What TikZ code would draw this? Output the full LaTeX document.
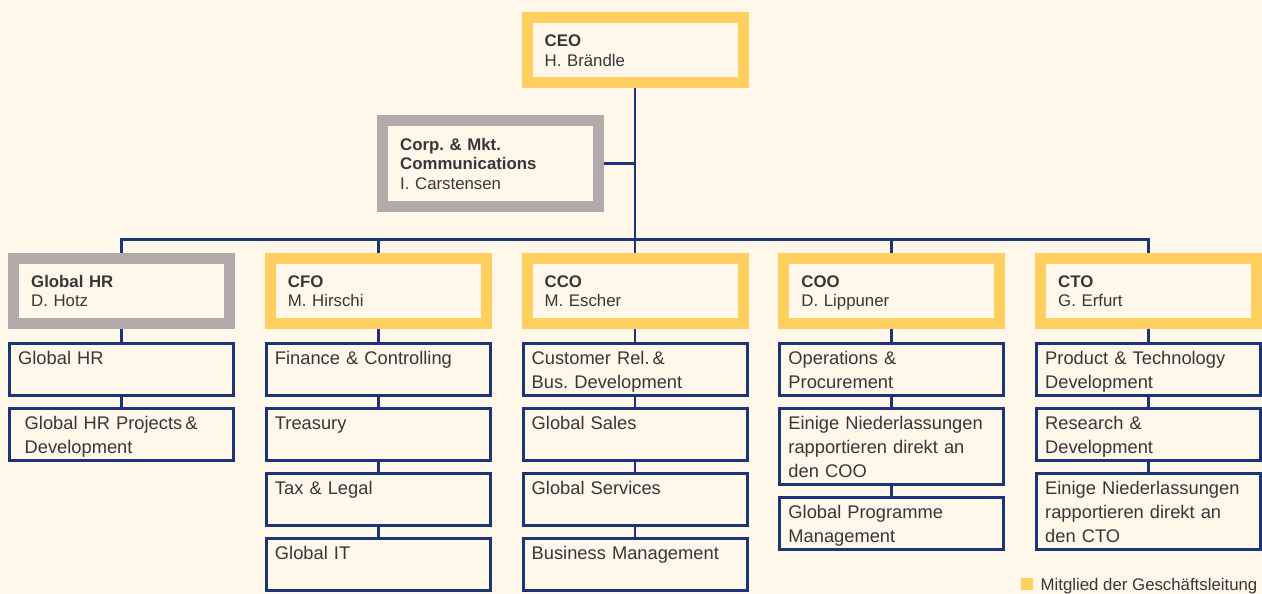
\documentclass[tikz,border=0pt]{standalone}
\usepackage{fontspec}
\setmainfont{Liberation Sans}
\frenchspacing
\usepackage{tikz}
\usetikzlibrary{positioning}
\definecolor{paper}{RGB}{255,247,234}
\definecolor{boardyellow}{RGB}{255,207,96}
\definecolor{staffgrey}{RGB}{178,170,170}
\definecolor{linenavy}{RGB}{28,52,122}
\definecolor{inktext}{RGB}{55,55,55}

\begin{document}
\begin{tikzpicture}[
    x=1pt, y=-1pt,
    head/.style={rectangle, draw=#1, line width=11pt, fill=paper,
                 minimum width=216pt, minimum height=65pt, inner sep=0pt},
    unit/.style={rectangle, draw=linenavy, line width=3pt, fill=paper,
                 minimum width=224pt, minimum height=52pt, inner sep=0pt},
    tall/.style={unit, minimum height=76.5pt},
    headtxt/.style={anchor=base west, inner sep=0pt, text width=190pt, align=left,
                    text=inktext, font=\fontsize{16.8}{19.5}\selectfont},
    unittxt/.style={anchor=base west, inner sep=0pt, text width=210pt, align=left,
                    text=inktext, font=\fontsize{18.3}{24.3}\selectfont},
    link/.style={draw=linenavy, line width=2.8pt}
]
    \fill[paper] (0,0) rectangle (1262,594);
    \useasboundingbox (0,0) rectangle (1262,594);

    % CEO and staff
    \node[head=boardyellow] (ceo) at (635,50) {};
    \node[headtxt] (ceotxt) at ([shift={(23,34.7)}]ceo.north west) {\textbf{CEO}\\H. Brändle};

    \node[head=staffgrey, minimum height=86pt] (corp) at (490.5,163.5) {};
    \node[headtxt] (corptxt) at ([shift={(23,35)}]corp.north west)
        {\textbf{Corp. \& Mkt.}\\\textbf{Communications}\\I. Carstensen};

    % Geschaeftsleitung
    \node[head=staffgrey]   (hr)  at (121.5,290.7) {};
    \node[head=boardyellow] (cfo) at (378.25,290.7) {};
    \node[head=boardyellow] (cco) at (635,290.7) {};
    \node[head=boardyellow] (coo) at (891.75,290.7) {};
    \node[head=boardyellow] (cto) at (1148.5,290.7) {};

    \node[headtxt] (hrtxt)  at ([shift={(23,34.7)}]hr.north west)  {\textbf{Global HR}\\D. Hotz};
    \node[headtxt] (cfotxt) at ([shift={(23,34.7)}]cfo.north west) {\textbf{CFO}\\M. Hirschi};
    \node[headtxt] (ccotxt) at ([shift={(23,34.7)}]cco.north west) {\textbf{CCO}\\M. Escher};
    \node[headtxt] (cootxt) at ([shift={(23,34.7)}]coo.north west) {\textbf{COO}\\D. Lippuner};
    \node[headtxt] (ctotxt) at ([shift={(23,34.7)}]cto.north west) {\textbf{CTO}\\G. Erfurt};

    % Global HR
    \node[unit, below=13pt of hr] (hrmain) {};
    \node[unit, below=10pt of hrmain] (hrproj) {};
    \node[unittxt] at ([shift={(10,22.3)}]hrmain.north west) {Global HR};
    \node[unittxt] at ([shift={(16.5,22.3)}]hrproj.north west) {Global HR Projects\,\&\\Development};

    % CFO
    \node[unit, below=13pt of cfo] (finance) {};
    \node[unit, below=10pt of finance] (treasury) {};
    \node[unit, below=10pt of treasury] (tax) {};
    \node[unit, below=10pt of tax] (globalit) {};
    \node[unittxt] at ([shift={(10,22.3)}]finance.north west) {Finance \& Controlling};
    \node[unittxt] at ([shift={(10,22.3)}]treasury.north west) {Treasury};
    \node[unittxt] at ([shift={(10,22.3)}]tax.north west) {Tax \& Legal};
    \node[unittxt] at ([shift={(10,22.3)}]globalit.north west) {Global IT};

    % CCO
    \node[unit, below=13pt of cco] (custrel) {};
    \node[unit, below=10pt of custrel] (sales) {};
    \node[unit, below=10pt of sales] (services) {};
    \node[unit, below=10pt of services] (busmgmt) {};
    \node[unittxt] at ([shift={(10,22.3)}]custrel.north west) {Customer Rel.\,\&\\Bus. Development};
    \node[unittxt] at ([shift={(10,22.3)}]sales.north west) {Global Sales};
    \node[unittxt] at ([shift={(10,22.3)}]services.north west) {Global Services};
    \node[unittxt] at ([shift={(10,22.3)}]busmgmt.north west) {Business Management};

    % COO
    \node[unit, below=13pt of coo] (ops) {};
    \node[tall, below=10pt of ops] (coobranch) {};
    \node[unit, below=10pt of coobranch] (programme) {};
    \node[unittxt] at ([shift={(10,22.3)}]ops.north west) {Operations \&\\Procurement};
    \node[unittxt] at ([shift={(10,22.3)}]coobranch.north west) {Einige Niederlassungen\\rapportieren direkt an\\den COO};
    \node[unittxt] at ([shift={(10,22.3)}]programme.north west) {Global Programme\\Management};

    % CTO
    \node[unit, below=13pt of cto] (product) {};
    \node[unit, below=10pt of product] (research) {};
    \node[tall, below=10pt of research] (ctobranch) {};
    \node[unittxt] at ([shift={(10,22.3)}]product.north west) {Product \& Technology\\Development};
    \node[unittxt] at ([shift={(10,22.3)}]research.north west) {Research \&\\Development};
    \node[unittxt] at ([shift={(10,22.3)}]ctobranch.north west) {Einige Niederlassungen\\rapportieren direkt an\\den CTO};

    % connectors
    \coordinate (bus) at (0,239.5);
    \draw[link] (ceo.south) -- (cco.north);
    \draw[link] (corp.east) -- (ceo.south |- corp.east);
    \draw[link] (hr.north) -- (hr.north |- bus) -- (cto.north |- bus) -- (cto.north);
    \foreach \top in {cfo, coo}
        \draw[link] (\top.north) -- (\top.north |- bus);
    \foreach \a/\b in {hr/hrmain, hrmain/hrproj,
                       cfo/finance, finance/treasury, treasury/tax, tax/globalit,
                       cco/custrel, custrel/sales, sales/services, services/busmgmt,
                       coo/ops, ops/coobranch, coobranch/programme,
                       cto/product, product/research, research/ctobranch}
        \draw[link] (\a.south) -- (\b.north);

    % legend
    \node[fill=boardyellow, minimum size=12pt, inner sep=0pt] (legendsq) at (1027,584) {};
    \node[anchor=base west, inner sep=0pt, text=inktext, font=\fontsize{16.8}{20}\selectfont]
        (legendtxt) at (1040.5,590) {Mitglied der Geschäftsleitung};
\end{tikzpicture}
\end{document}
